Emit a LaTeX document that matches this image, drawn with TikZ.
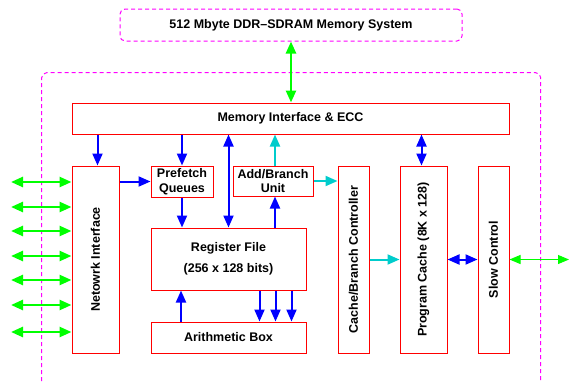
\documentclass[tikz,border=0pt]{standalone}
\usepackage{fontspec}
\setmainfont{Liberation Sans}
\usetikzlibrary{arrows.meta,positioning,calc}

\definecolor{dashpink}{RGB}{255,0,255}
\definecolor{linkgreen}{RGB}{0,255,0}
\definecolor{ctrlcyan}{RGB}{0,204,204}

\begin{document}
\begin{tikzpicture}[
    x=1pt, y=-1pt,
    font=\fontsize{12.5}{14.5}\selectfont\bfseries,
    box/.style={rectangle, draw=red, line width=1pt, inner sep=0pt, align=center},
    dashbox/.style={draw=dashpink, line width=1pt, dash pattern=on 4pt off 3pt, rounded corners=5pt},
    barrow/.style={draw=blue, line width=2pt, -{Triangle[length=12pt,width=10pt]}},
    bboth/.style={draw=blue, line width=2pt, {Triangle[length=12pt,width=10pt]}-{Triangle[length=12pt,width=10pt]}},
    carrow/.style={draw=ctrlcyan, line width=2pt, -{Triangle[length=12pt,width=10pt]}},
    gboth/.style={draw=linkgreen, line width=2.5pt, {Triangle[length=12pt,width=10pt]}-{Triangle[length=12pt,width=10pt]}},
    gthin/.style={draw=linkgreen, line width=1pt, {Triangle[length=11pt,width=9pt]}-{Triangle[length=11pt,width=9pt]}}
]
\useasboundingbox (0,0) rectangle (570,381);

% External memory and chip outline
\node[rectangle, dashbox, minimum width=342pt, minimum height=32pt] (mem) at (291,25) {512 Mbyte DDR--SDRAM Memory System};
\draw[dashbox] (41.7,381) |- (540.7,72.7) -- (540.7,381);

% Blocks
\node[box, minimum width=437pt, minimum height=31pt] (mi) at (290.5,118.5) {Memory Interface \& ECC};
\node[box, minimum width=47pt, minimum height=187pt] (ni) at (95.5,259.5) {\rotatebox{90}{Netowrk Interface}};
\node[box, minimum width=62pt, minimum height=31pt] (pq) at (182,181.5) {Prefetch\\Queues};
\node[box, minimum width=80pt, minimum height=30pt] (abu) at (273,181) {Add/Branch\\Unit};
\node[box, minimum width=155pt, minimum height=62pt] (rf) at (228.5,259) {Register File\\[7pt](256 x 128 bits)};
\node[box, minimum width=155pt, minimum height=31pt] (arith) at (228.5,337.5) {Arithmetic Box};
\node[box, minimum width=31pt, minimum height=187pt] (cbc) at (353.5,259.5) {\rotatebox{90}{Cache/Branch Controller}};
\node[box, minimum width=47pt, minimum height=187pt] (pc) at (423.5,259.5) {\rotatebox{90}{Program Cache (8K x 128)}};
\node[box, minimum width=31pt, minimum height=187pt] (sc) at (493.5,259.5) {\rotatebox{90}{Slow Control}};

% Links
\draw[gboth] (mem.south) -- (mem.south |- mi.north);
\draw[barrow] ([xshift=2]mi.south -| ni.north) -- ([xshift=2]ni.north);
\draw[barrow] (mi.south -| pq.north) -- (pq.north);
\draw[bboth] (mi.south -| rf.north) -- (rf.north);
\draw[carrow] ([xshift=2]abu.north) -- ([xshift=2]abu.north |- mi.south);
\draw[barrow] ([xshift=2]abu.south |- rf.north) -- ([xshift=2]abu.south);
\draw[carrow] (abu.east) -- (abu.east -| cbc.west);
\draw[barrow] (ni.east |- pq.west) -- (pq.west);
\draw[barrow] (pq.south) -- (pq.south |- rf.north);
\draw[barrow] ([xshift=-1]pq.south |- arith.north) -- ([xshift=-1]pq.south |- rf.south);
\foreach \dx in {31,47,63}
    \draw[barrow] ([xshift=\dx]rf.south) -- ([xshift=\dx]arith.north);
\draw[carrow] (cbc.east) -- (pc.west);
\draw[bboth] ([xshift=-2]mi.south -| pc.north) -- ([xshift=-2]pc.north);
\draw[bboth] (pc.east) -- (sc.west);
\coordinate (ext) at (569,259.5);
\draw[gthin] (sc.east) -- (ext);
\foreach \y [count=\i] in {182,207,231,256,280,305,332} {
    \coordinate (io\i) at (11,\y);
    \draw[gboth] (io\i) -- (io\i -| ni.west);
}

\end{tikzpicture}
\end{document}
